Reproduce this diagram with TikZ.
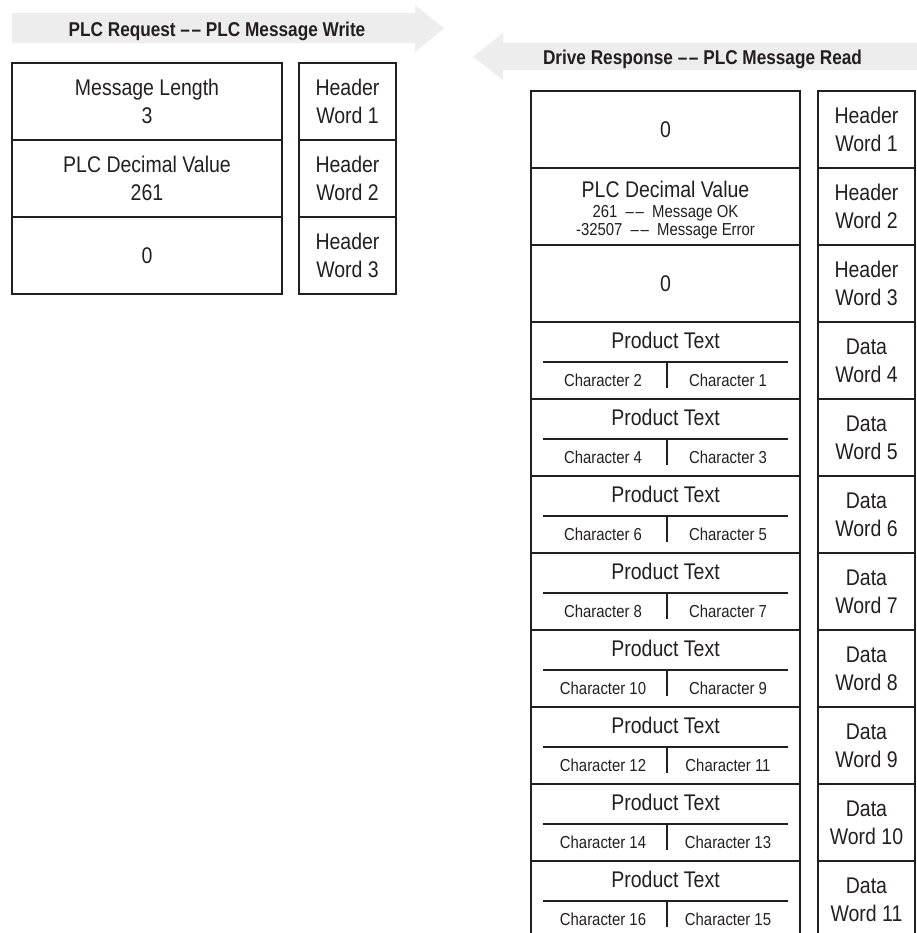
\documentclass[tikz,border=0pt]{standalone}
\usepackage{fontspec}
\setmainfont{Liberation Sans}[FakeStretch=0.86]
\usetikzlibrary{positioning, calc}
\definecolor{plcLine}{HTML}{231F20}
\definecolor{plcBand}{HTML}{EDEDED}
\newcommand{\ddash}{\textendash\kern1.2pt\textendash}
\tikzset{
  cellTxt/.style={font=\fontsize{17}{21}\selectfont, text=plcLine},
  cellL/.style={rectangle, draw=plcLine, line width=1.8pt, outer sep=0pt,
                minimum width=202.5pt, minimum height=57.75pt, inner sep=0pt,
                align=center, cellTxt},
  cellR/.style={cellL, minimum width=201.75pt},
  wordBox/.style={cellL, minimum width=72.75pt},
  bandTxt/.style={font=\fontsize{15}{18}\selectfont\bfseries, text=plcLine, anchor=base},
  charTxt/.style={font=\fontsize{13}{13.5}\selectfont, text=plcLine, anchor=base},
  splitLine/.style={draw=plcLine, line width=1.5pt},
}
\begin{document}
\begin{tikzpicture}[x=0.75pt, y=-0.75pt, node distance=0pt]
    \useasboundingbox (0,0) rectangle (917,933);
    \fill[plcBand] (12,13) -- (415,13) -- (415,5) -- (444,28.5) -- (415,52)
      -- (415,43) -- (12,43) -- cycle;
    \node[bandTxt] (reqT) at (217,36) {PLC Request \ddash{} PLC Message Write};
    \fill[plcBand] (917,43) -- (503,43) -- (503,33) -- (473,56.5) -- (503,80)
      -- (503,70) -- (917,70) -- cycle;
    \node[bandTxt] (rspT) at (702.5,64) {Drive Response \ddash{} PLC Message Read};

    \node[cellL] (q1) at (147,101.5) {Message Length\\3};
    \node[cellL, below=of q1] (q2) {PLC Decimal Value\\261};
    \node[cellL, below=of q2] (q3) {0};
    \node[wordBox, right=12.75pt of q1] (qw1) {Header\\Word 1};
    \node[wordBox, right=12.75pt of q2] (qw2) {Header\\Word 2};
    \node[wordBox, right=12.75pt of q3] (qw3) {Header\\Word 3};

    \node[cellR] (r1) at (665.5,129.5) {0};
    \node[cellR, below=of r1] (r2) {};
    \node[cellR, below=of r2] (r3) {0};
    \node[wordBox, right=13.5pt of r1] (rw1) {Header\\Word 1};
    \node[wordBox, right=13.5pt of r2] (rw2) {Header\\Word 2};
    \node[wordBox, right=13.5pt of r3] (rw3) {Header\\Word 3};
    \node[cellTxt, anchor=base] (dv) at ($(r2.north)+(0,29)$) {PLC Decimal Value};
    \node[charTxt, align=center] (dvc) at ($(r2.north)+(0,67)$)
      {261\ \ \ddash\ \ Message OK\\-32507\ \ \ddash\ \ Message Error};

    \foreach \i [evaluate=\i as \j using int(\i-1),
                 evaluate=\i as \b using int(2*\i-6),
                 evaluate=\i as \a using int(2*\i-7)] in {4,...,11} {
      \node[cellR, below=of r\j] (r\i) {};
      \node[wordBox, right=13.5pt of r\i] (rw\i) {Data\\Word \i};
      \node[cellTxt, anchor=base] (pt\i) at ($(r\i.north)+(0,26)$) {Product Text};
      \draw[splitLine] ($(r\i.north west)+(12,40)$) -- ($(r\i.north east)+(-12,40)$);
      \draw[splitLine] ($(r\i.north)+(1.5,40)$) -- ($(r\i.north)+(1.5,66)$);
      \node[charTxt] (cb\i) at ($(r\i.north)+(-62.5,64)$) {Character \b};
      \node[charTxt] (ca\i) at ($(r\i.north)+(62.5,64)$) {Character \a};
    }
\end{tikzpicture}
\end{document}
